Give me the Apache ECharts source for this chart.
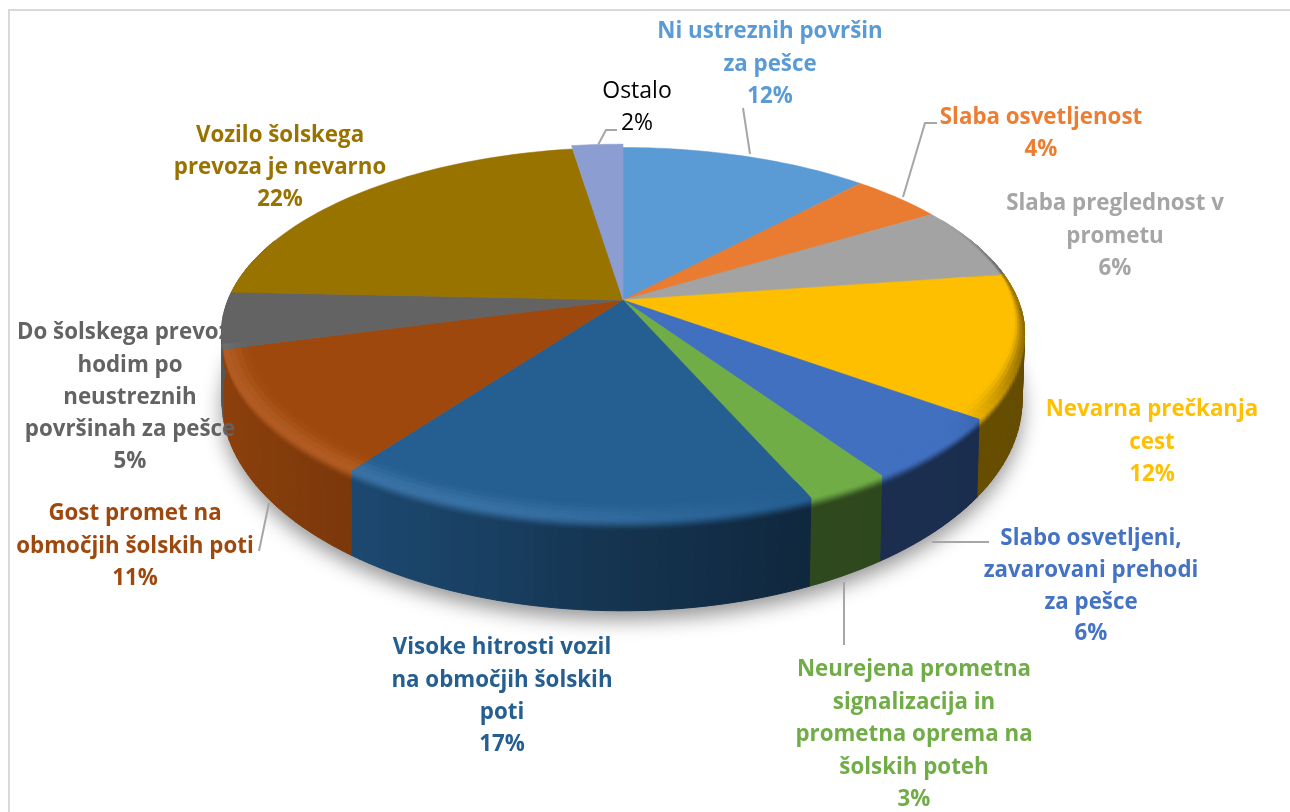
<!DOCTYPE html>
<html><head><meta charset="utf-8">
<style>html,body{margin:0;padding:0;background:#fff}#c{width:1290px;height:812px}</style>
<script src="https://cdn.jsdelivr.net/npm/echarts@6/dist/echarts.min.js"></script></head>
<body><div id="c"></div>
<script>
// ---- data ----
const categories = [
  'Ni ustreznih površin za pešce','Slaba osvetljenost','Slaba preglednost v prometu','Nevarna prečkanja cest',
  'Slabo osvetljeni, zavarovani prehodi za pešce','Neurejena prometna signalizacija in prometna oprema na šolskih poteh',
  'Visoke hitrosti vozil na območjih šolskih poti','Gost promet na območjih šolskih poti',
  'Do šolskega prevoza hodim po neustreznih površinah za pešce','Vozilo šolskega prevoza je nevarno','Ostalo'];
const values = [11.9,4.4,6.4,12.4,5.5,2.9,16.5,10.8,4.9,21.9,2.4];
const labelLines = [
  ['Ni ustreznih površin','za pešce'],['Slaba osvetljenost'],['Slaba preglednost v','prometu'],['Nevarna prečkanja','cest'],
  ['Slabo osvetljeni,','zavarovani prehodi','za pešce'],['Neurejena prometna','signalizacija in','prometna oprema na','šolskih poteh'],
  ['Visoke hitrosti vozil','na območjih šolskih','poti'],['Gost promet na','območjih šolskih poti'],
  ['Do šolskega prevoza','hodim po','neustreznih','površinah za pešce'],['Vozilo šolskega','prevoza je nevarno'],['Ostalo']];
// ---- style / layout ----
const colors = ['#5b9bd5','#e97c30','#a3a3a3','#fdbf00','#4170c1','#70ad47','#255e91','#9e480e','#636363','#997300','#8c9dd1'];
const textColors = ['#5b9bd5','#ed7d31','#a5a5a5','#ffc000','#4472c4','#70ad47','#255e91','#9e480e','#636363','#997300','#000000'];
const labelPos = [[770,32],[1041,118],[1115,204],[1152,410],[1091,539],[914,670],[502,648],[135,514],[130,333],[280,136],[637,91]];
const lineHeights = [32.5,32,32.5,32.5,31.7,32.5,32.3,32.5,32.2,32,32];
const leaders = [
  [[743,108],[750,154]],[[903,197],[925,123],[937,123]],null,null,[[932,542],[989,542]],[[844,582],[844,645]],
  null,[[269,503],[259,551]],null,null,[[598,145],[606,130],[617,130]]];
const radialScale = [1,1,1,1,1,1,1,1,1,1,1.026];
const TOP = {cx:623, vy:300, a:180, b:395, p:.18};
const BOT = {cx:622, vy:362, a:204, b:393.6, p:.18};
const total = values.reduce((s,v)=>s+v,0);
const starts = []; values.reduce((s,v,i)=>{starts[i]=s; return s+v/total*360;},0);

function proj(g,r,deg){
  const t=deg*Math.PI/180,u=r*Math.sin(t),v=-r*Math.cos(t),d=1-g.p*v;
  return [g.cx+g.b*u/d, g.vy+g.a*v/d];
}
const lerp=(a,b,t)=>[a[0]+(b[0]-a[0])*t,a[1]+(b[1]-a[1])*t];
const edge=(deg,w)=>lerp(proj(TOP,1,deg),proj(BOT,1,deg),w);
const hex=c=>[1,3,5].map(i=>parseInt(c.substr(i,2),16));
const mix=(a,b,t)=>a.map((x,i)=>x+(b[i]-x)*t);
const mul=(a,k)=>a.map(x=>Math.min(255,x*k));
const css=a=>'rgb('+a.map(Math.round).join(',')+')';
const sm=(e0,e1,x)=>{const t=Math.max(0,Math.min(1,(x-e0)/(e1-e0)));return t*t*(3-2*t);};
function wallK(x){ // brightness of the wall by screen x
  const xs=[230,355,480,600,810,1020],ks=[.88,.77,.68,.56,.42,.40];
  for(let i=1;i<xs.length;i++) if(x<=xs[i]) return ks[i-1]+(ks[i]-ks[i-1])*Math.max(0,(x-xs[i-1]))/(xs[i]-xs[i-1]);
  return .4;
}
const highlight=d=>sm(150,205,d)*(1-sm(254,257,d));
const wallVisible=d=>d>92&&d<256;
const rimVisible=d=>d>62&&d<256;
const cell=(pts,col)=>({type:'polygon',shape:{points:pts},style:{fill:col,stroke:col,lineWidth:1},silent:true});
const STEP=1.5, BW=.14, RB=.07;

function angles(i){
  const a0=starts[i],a1=a0+values[i]/total*360,n=Math.max(1,Math.ceil((a1-a0)/STEP)),out=[];
  for(let k=0;k<=n;k++) out.push(a0+(a1-a0)*k/n);
  return out;
}
function renderWalls(params){
  const i=params.dataIndex,ch=[],base=hex(colors[i]),as=angles(i);
  if(i===0){
    const pts=[];for(let d=0;d<360;d+=3)pts.push(proj(BOT,1,d));
    ch.push({type:'polygon',shape:{points:pts},style:{fill:'#999',shadowBlur:20,shadowColor:'rgba(0,0,0,.42)',shadowOffsetY:9},silent:true});
  }
  for(let k=0;k<as.length-1;k++){
    const d0=as[k],d1=as[k+1];
    if(!(d1>70&&d0<290))continue;
    const x=(proj(BOT,1,d0)[0]+proj(BOT,1,d1)[0])/2;
    ch.push(cell([edge(d0,0),edge(d1,0),edge(d1,1),edge(d0,1)],css(mul(base,wallK(x)))));
  }
  return {type:'group',children:ch};
}
function renderTops(params){
  const i=params.dataIndex,ch=[],base=hex(colors[i]),as=angles(i),R=radialScale[i];
  const pts=[[TOP.cx,TOP.vy]];as.forEach(d=>pts.push(proj(TOP,R,d)));
  ch.push({type:'polygon',shape:{points:pts},style:{fill:colors[i],stroke:colors[i],lineWidth:.5},silent:true});
  for(let k=0;k<as.length-1;k++){
    const d0=as[k],d1=as[k+1],dm=(d0+d1)/2;
    if(!rimVisible(dm))continue;
    const h=highlight(dm),xm=proj(BOT,1,dm)[0];
    const peak=mix(mul(base,1+.08*h),[255,255,255],.08*h);
    const wall=mul(base,wallK(xm));
    const dark=1-.4*sm(62,85,dm)*(1-sm(105,135,dm));
    const peakR=mul(peak,dark);
    const rb=RB*Math.max(.15,sm(62,150,dm));
    for(let b=0;b<5;b++){
      const r0=1-rb*(1-b/5),r1=1-rb*(1-(b+1)/5);
      ch.push(cell([proj(TOP,r0,d0),proj(TOP,r0,d1),proj(TOP,r1,d1),proj(TOP,r1,d0)],css(mix(base,peakR,sm(0,1,(b+.5)/5)))));
    }
    if(!wallVisible(dm))continue;
    const n=7;
    for(let b=0;b<n;b++){
      const w0=BW*b/n,w1=BW*(b+1)/n;
      ch.push(cell([edge(d0,w0),edge(d1,w0),edge(d1,w1),edge(d0,w1)],css(mix(peakR,wall,sm(0,1,(b+.5)/n)))));
    }
  }
  return {type:'group',children:ch};
}
function renderLabels(params){
  const i=params.dataIndex,ch=[],pos=labelPos[i],lh=lineHeights[i];
  const lines=labelLines[i].concat([Math.round(values[i]/total*100)+'%']);
  if(leaders[i]) ch.push({type:'polyline',shape:{points:leaders[i]},style:{fill:'none',stroke:'#a6a6a6',lineWidth:2},silent:true});
  lines.forEach((t,j)=>ch.push({type:'text',silent:true,style:{x:pos[0],y:pos[1]+j*lh,text:t,fill:textColors[i],
    fontFamily:'"Open Sans"',fontSize:i===10?23:22.3,fontWeight:i===10?'normal':'bold',align:'center',verticalAlign:'middle'}}));
  return {type:'group',children:ch};
}
const seriesData=categories.map((n,i)=>({name:n,value:values[i]}));
const mk=(r,z)=>({type:'custom',coordinateSystem:'none',renderItem:r,data:seriesData,z,clip:false,silent:true,animation:false});
const chart=echarts.init(document.getElementById('c'),null,{renderer:'canvas'});
chart.setOption({
  animation:false,backgroundColor:'#fff',
  graphic:[{type:'rect',z:0,silent:true,shape:{x:9,y:10,width:1400,height:1000},style:{fill:'none',stroke:'#d9d9d9',lineWidth:2}}],
  series:[mk(renderWalls,1),mk(renderTops,2),mk(renderLabels,3)]
});
</script></body></html>
